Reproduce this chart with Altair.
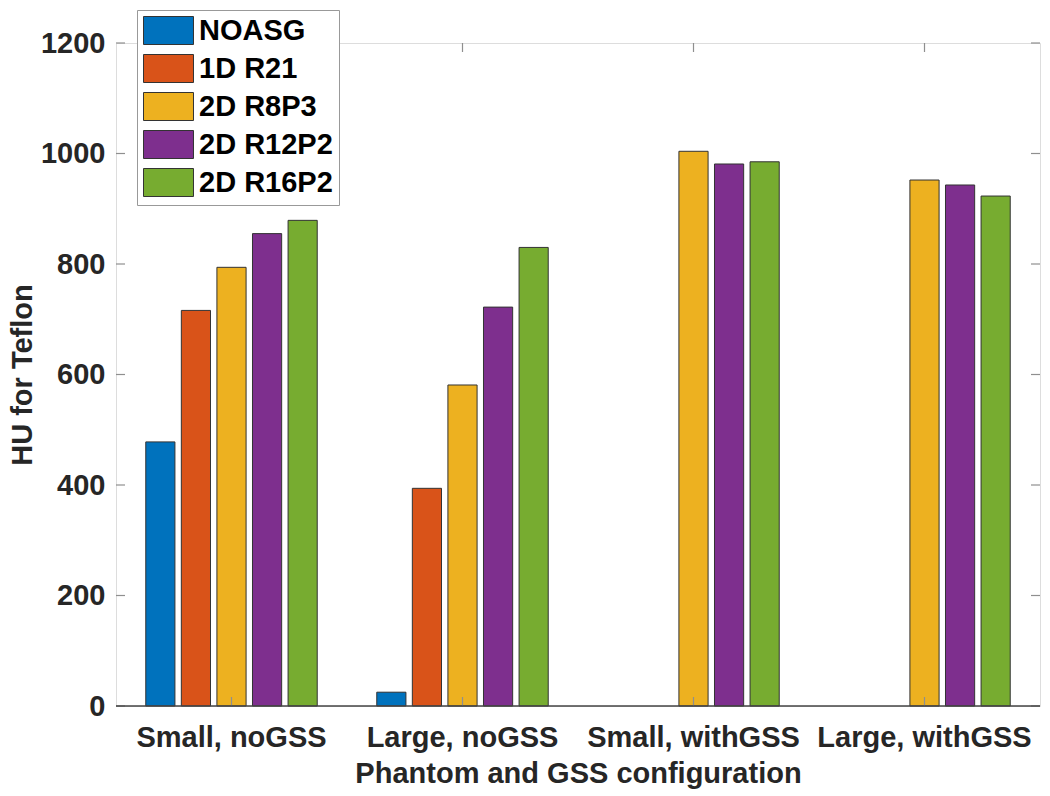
import altair as alt
import pandas as pd

categories = ["Small, noGSS", "Large, noGSS", "Small, withGSS", "Large, withGSS"]
series = ["NOASG", "1D R21", "2D R8P3", "2D R12P2", "2D R16P2"]
colors = ["#0072BD", "#D95319", "#EDB120", "#7E2F8E", "#77AC30"]

noasg = [478, 25, None, None]
r21 = [716, 394, None, None]
r8p3 = [794, 581, 1004, 952]
r12p2 = [855, 722, 981, 943]
r16p2 = [879, 830, 985, 923]

y_ticks = [0, 200, 400, 600, 800, 1000, 1200]

rows = []
for s, vals in zip(series, [noasg, r21, r8p3, r12p2, r16p2]):
    for c, v in zip(categories, vals):
        if v is not None:
            rows.append({"config": c, "method": s, "hu": v})
df = pd.DataFrame(rows)
ytick_df = pd.DataFrame({"t": y_ticks})
xtick_df = pd.DataFrame({"config": categories})

W, H = 924, 663
FONT = "Liberation Sans"
AX = "#8f8f8f"
TL = 9

xscale = alt.Scale(domain=categories, paddingInner=0.23, paddingOuter=0.115)
yscale = alt.Scale(domain=[0, 1200], nice=False)

bars = alt.Chart(df).mark_bar(stroke="#333333", strokeWidth=1).encode(
    x=alt.X("config:N", scale=xscale, sort=categories,
            axis=alt.Axis(title="Phantom and GSS configuration", labelAngle=0,
                          labelFontSize=29, labelFont=FONT, labelFontWeight="bold",
                          labelColor="#262626", labelPadding=17, ticks=False, domain=False,
                          labelLimit=400,
                          titleFontSize=29, titleFont=FONT, titleFontWeight="bold",
                          titleColor="#262626", titleY=76, titleBaseline="alphabetic")),
    xOffset=alt.XOffset("method:N", sort=series,
                        scale=alt.Scale(domain=series, paddingInner=0.18, paddingOuter=0.09)),
    y=alt.Y("hu:Q", scale=yscale,
            axis=alt.Axis(title="HU for Teflon", values=y_ticks, format="d", grid=False,
                          ticks=False, domain=False, labelFontSize=29, labelFont=FONT,
                          labelFontWeight="bold", labelColor="#262626", labelPadding=11,
                          titleFontSize=29, titleFont=FONT, titleFontWeight="bold",
                          titleColor="#262626", titleX=-85, titleBaseline="alphabetic")),
    color=alt.Color("method:N", sort=series,
                    scale=alt.Scale(domain=series, range=colors),
                    legend=alt.Legend(title=None, orient="none", legendX=21, legendY=-33,
                                      symbolType="M-1,-1H2.571V1H-1Z", symbolSize=784,
                                      symbolStrokeColor="#333333", symbolStrokeWidth=1,
                                      symbolOpacity=1,
                                      labelFontSize=29, labelFont=FONT, labelFontWeight="bold",
                                      labelColor="black", labelOffset=27, rowPadding=5,
                                      padding=6, strokeColor="#999999", fillColor="white",
                                      labelLimit=400)),
)

left_ticks = alt.Chart(ytick_df).mark_rule(color=AX, strokeWidth=1.2).encode(
    y=alt.Y("t:Q", scale=yscale), x=alt.value(0), x2=alt.value(TL))
right_ticks = alt.Chart(ytick_df).mark_rule(color=AX, strokeWidth=1.2).encode(
    y=alt.Y("t:Q", scale=yscale), x=alt.value(W - TL), x2=alt.value(W))
bottom_ticks = alt.Chart(xtick_df).mark_rule(color=AX, strokeWidth=1.2).encode(
    x=alt.X("config:N", scale=xscale, sort=categories), y=alt.value(H - TL), y2=alt.value(H))
top_ticks = alt.Chart(xtick_df).mark_rule(color=AX, strokeWidth=1.2).encode(
    x=alt.X("config:N", scale=xscale, sort=categories), y=alt.value(0), y2=alt.value(TL))
baseline = alt.Chart(ytick_df.head(1)).mark_rule(color="#444444", strokeWidth=1.4).encode(
    y=alt.Y("t:Q", scale=yscale), x=alt.value(0), x2=alt.value(W))

chart = alt.layer(bars, left_ticks, right_ticks, bottom_ticks, top_ticks, baseline).properties(
    width=W, height=H,
    autosize=alt.AutoSizeParams(type="none"),
    padding={"left": 108, "top": 35, "right": 1, "bottom": 88},
).configure_view(stroke=AX, strokeWidth=1.2).configure(background="white")

chart.save("out.html", embed_options={"renderer": "svg", "actions": False})
